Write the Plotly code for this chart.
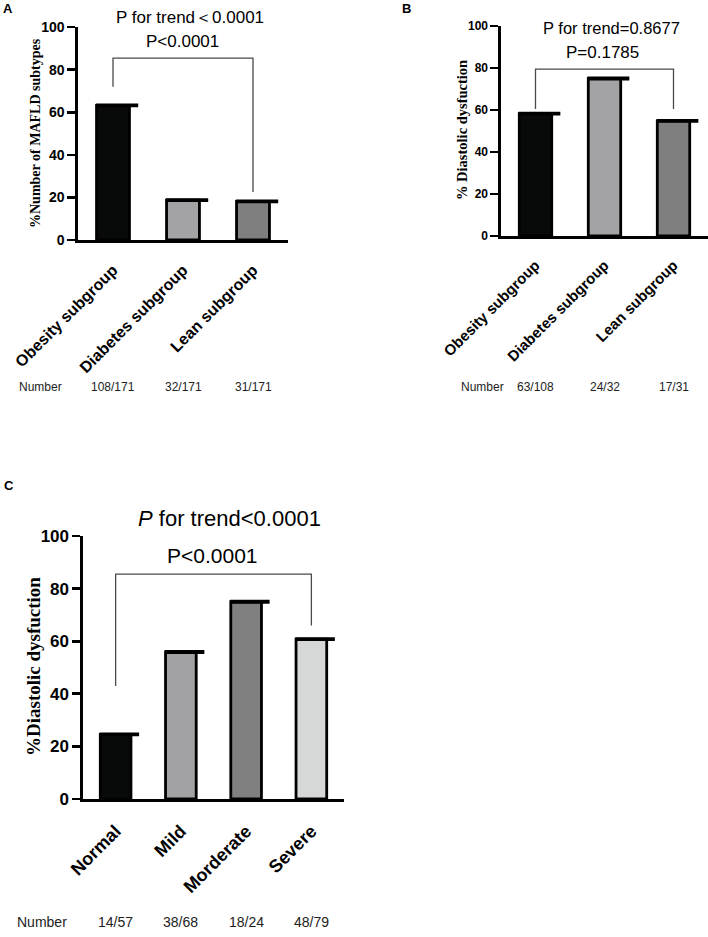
import plotly.graph_objects as go

W, H = 708, 937

# ---------------- data ----------------
cats_a = ["Obesity subgroup", "Diabetes subgroup", "Lean subgroup"]
vals_a = [63.2, 18.7, 18.1]
nums_a = ["108/171", "32/171", "31/171"]

cats_b = ["Obesity subgroup", "Diabetes subgroup", "Lean subgroup"]
vals_b = [58.3, 75.0, 54.8]
nums_b = ["63/108", "24/32", "17/31"]

cats_c = ["Normal", "Mild", "Morderate", "Severe"]
vals_c = [24.6, 55.9, 75.0, 60.8]
nums_c = ["14/57", "38/68", "18/24", "48/79"]

y_ticks = [0, 20, 40, 60, 80, 100]

colors_abc = ["#080a0a", "#a3a3a6", "#7e7f7e"]
colors_c = ["#080a0a", "#a2a2a5", "#7f807f", "#d6d8d7"]

SANS = "Liberation Sans, Arial, sans-serif"
SERIF = "Liberation Serif, Times New Roman, serif"


def pxx(x):
    return x / W


def pxy(y):
    return 1 - y / H


fig = go.Figure()

panels = [
    dict(key="", cats=cats_a, vals=vals_a, nums=nums_a, colors=colors_abc,
         xd=(78, 288), yd=(27, 240), tick_size=14, lab_size=16, num_size=12,
         num_y=387, number_x=40, ytitle="%Number of MAFLD subtypes",
         ytitle_xy=(35, 133), ytitle_size=14,
         bracket=(0, 2, 85.4, 72, 22.5)),
    dict(key="2", cats=cats_b, vals=vals_b, nums=nums_b, colors=colors_abc,
         xd=(501, 708), yd=(26, 236), tick_size=12, lab_size=15, num_size=12,
         num_y=387, number_x=482, ytitle="% Diastolic dysfuction",
         ytitle_xy=(462, 130), ytitle_size=14.5,
         bracket=(0, 2, 79.5, 60.5, 60.5)),
    dict(key="3", cats=cats_c, vals=vals_c, nums=nums_c, colors=colors_c,
         xd=(83, 344), yd=(536, 799), tick_size=17, lab_size=18, num_size=14,
         num_y=922, number_x=42, ytitle="%Diastolic dysfuction",
         ytitle_xy=(33, 667), ytitle_size=19,
         bracket=(0, 3, 85.5, 43, 66)),
]

shapes = []
annotations = []

for p in panels:
    k = p["key"]
    xa = "x" + k
    ya = "y" + k
    n = len(p["cats"])
    xs = list(range(n))
    fig.add_trace(go.Bar(
        x=xs, y=p["vals"], width=0.47,
        marker=dict(color=p["colors"], line=dict(color="black", width=2.8)),
        xaxis=xa, yaxis=ya, showlegend=False, hoverinfo="skip"))
    # thick caps on bar tops
    for i, v in enumerate(p["vals"]):
        shapes.append(dict(type="line", xref=xa, yref=ya,
                           x0=i - 0.245, x1=i + 0.36, y0=v, y1=v,
                           line=dict(color="black", width=3.8)))
    # comparison bracket
    b0, b1, top, l_end, r_end = p["bracket"]
    shapes.append(dict(type="path", xref=xa, yref=ya,
                       path=f"M {b0} {l_end} L {b0} {top} L {b1} {top} L {b1} {r_end}",
                       line=dict(color="#4a4a4a", width=1.3)))
    # axes
    xd0, xd1 = p["xd"]
    yt, yb = p["yd"]
    layout_x = dict(domain=[pxx(xd0), pxx(xd1)], anchor=ya, range=[-0.5, n - 0.5],
                    tickvals=xs, ticktext=p["cats"], tickangle=-45, automargin=False,
                    tickfont=dict(family=SANS, size=p["lab_size"], color="black", weight="bold"),
                    showline=True, linecolor="black", linewidth=2.6, ticks="",
                    ticklabelstandoff=12, showgrid=False, zeroline=False, fixedrange=True)
    layout_y = dict(domain=[pxy(yb), pxy(yt)], anchor=xa, range=[0, 100], automargin=False,
                    tickvals=y_ticks, ticks="outside", ticklen=8, tickwidth=2.6,
                    tickcolor="black",
                    tickfont=dict(family=SANS, size=p["tick_size"], color="black", weight="bold"),
                    showline=True, linecolor="black", linewidth=2.6,
                    showgrid=False, zeroline=False, fixedrange=True)
    fig.update_layout(**{"xaxis" + k: layout_x, "yaxis" + k: layout_y})
    # number row
    annotations.append(dict(text="Number", xref="paper", yref="paper",
                            x=pxx(p["number_x"]), y=pxy(p["num_y"]),
                            showarrow=False, xanchor="center", yanchor="middle",
                            font=dict(family=SANS, size=p["num_size"], color="#222")))
    for i, t in enumerate(p["nums"]):
        annotations.append(dict(text=t, xref=xa, yref="paper", x=i, y=pxy(p["num_y"]),
                                showarrow=False, xanchor="center", yanchor="middle",
                                font=dict(family=SANS, size=p["num_size"], color="#222")))
    # y title
    tx, ty = p["ytitle_xy"]
    annotations.append(dict(text=p["ytitle"], xref="paper", yref="paper",
                            x=pxx(tx), y=pxy(ty), textangle=-90, showarrow=False,
                            xanchor="center", yanchor="middle",
                            font=dict(family=SERIF, size=p["ytitle_size"], color="black",
                                      weight="bold")))

# P-value texts
p_texts = [
    ("P for trend＜0.0001", 190, 18, 17),
    ("P&lt;0.0001", 182, 42, 17),
    ("P for trend=0.8677", 611, 28, 16.5),
    ("P=0.1785", 602, 53, 17),
    ("<i>P</i> for trend&lt;0.0001", 229, 518, 22),
    ("P&lt;0.0001", 212, 555, 21),
]
for t, x, y, s in p_texts:
    annotations.append(dict(text=t, xref="paper", yref="paper", x=pxx(x), y=pxy(y),
                            showarrow=False, xanchor="center", yanchor="middle",
                            font=dict(family=SANS, size=s, color="black")))

# panel letters
for t, x, y in [("A", 8, 9), ("B", 407, 9), ("C", 9, 486)]:
    annotations.append(dict(text=t, xref="paper", yref="paper", x=pxx(x), y=pxy(y),
                            showarrow=False, xanchor="center", yanchor="middle",
                            font=dict(family=SANS, size=13, color="black", weight="bold")))

fig.update_layout(width=W, height=H, margin=dict(l=0, r=0, t=0, b=0),
                  paper_bgcolor="white", plot_bgcolor="white",
                  shapes=shapes, annotations=annotations, bargap=0.5)

fig.write_html("out.html", config={"displayModeBar": False, "staticPlot": True},
               post_script="document.body.style.margin='0px';"
                           "document.body.style.overflow='hidden';")
